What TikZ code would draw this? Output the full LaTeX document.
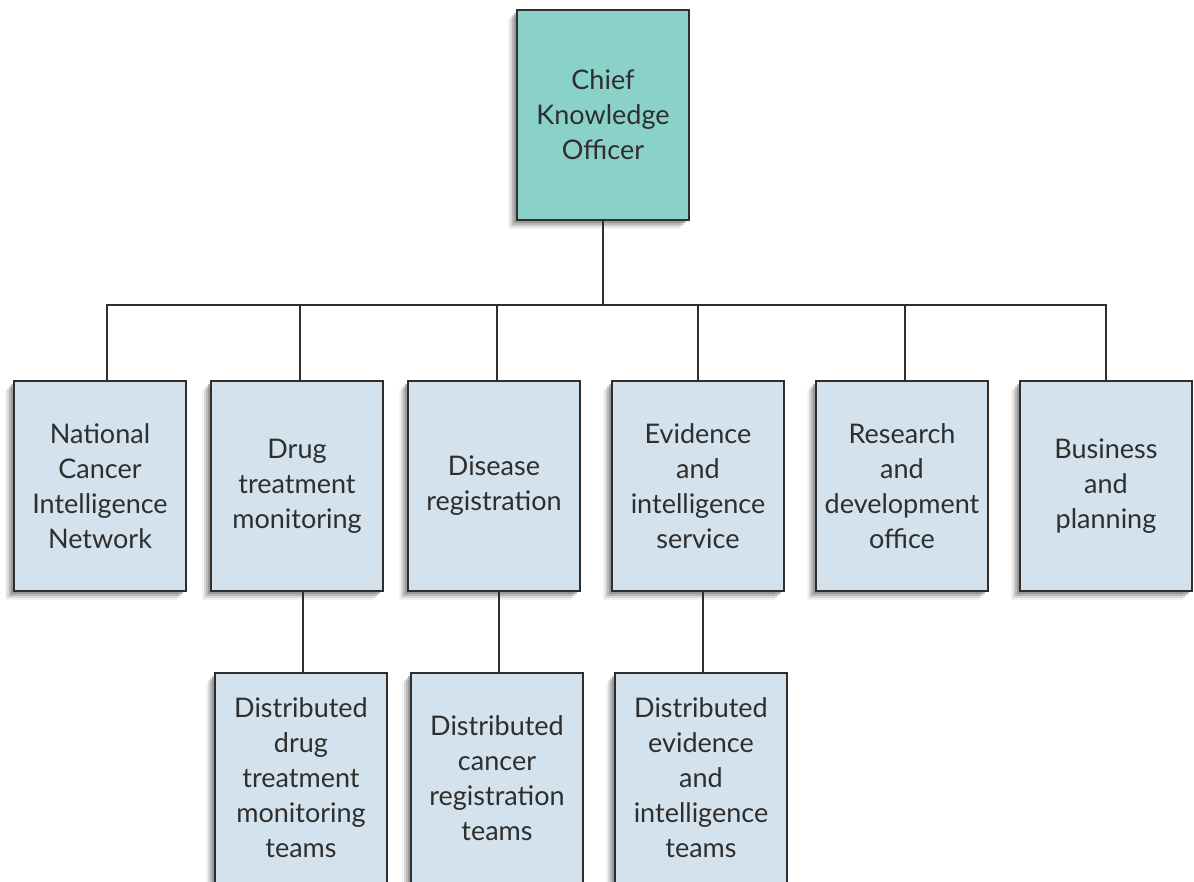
\documentclass[tikz,border=0pt]{standalone}
\usepackage{fontspec}
\setmainfont{Lato}
\usetikzlibrary{shadows}
\definecolor{ckoteal}{HTML}{8AD1CA}
\definecolor{unitblue}{HTML}{D3E2EC}
\definecolor{edgegray}{HTML}{2E2E2E}
\tikzset{
  unit/.style={draw=edgegray, line width=1.4pt, fill=unitblue, text=edgegray,
    minimum width=172pt, minimum height=210pt, inner sep=0pt, align=center,
    font=\fontsize{27}{35}\selectfont,
    drop shadow={shadow xshift=-3pt, shadow yshift=-3pt, opacity=0.55},
    drop shadow={shadow xshift=-5pt, shadow yshift=-5pt, opacity=0.35},
    drop shadow={shadow xshift=-7pt, shadow yshift=-7pt, opacity=0.22},
    drop shadow={shadow xshift=-9pt, shadow yshift=-9pt, opacity=0.10}},
  chief/.style={unit, fill=ckoteal},
  link/.style={draw=edgegray, line width=2pt}
}
\begin{document}
\begin{tikzpicture}[x=1pt,y=-1pt]
\clip (0,0) rectangle (1194,881);
\fill[white] (0,0) rectangle (1194,881);

\node[chief] (CKO) at (603,115) {Chief\\Knowledge\\Officer};

\node[unit] (A) at (100,486) {National\\Cancer\\Intelligence\\Network};
\node[unit] (B) at (297,486) {Drug\\treatment\\monitoring};
\node[unit] (C) at (494,486) {Disease\\registration};
\node[unit] (D) at (698,486) {Evidence\\and\\intelligence\\service};
\node[unit] (E) at (902,486) {Research\\and\\development\\office};
\node[unit] (F) at (1106,486) {Business\\and\\planning};

\node[unit] (G) at (301,778) {Distributed\\drug\\treatment\\monitoring\\teams};
\node[unit] (H) at (497,778) {Distributed\\cancer\\registration\\teams};
\node[unit] (I) at (701,778) {Distributed\\evidence\\and\\intelligence\\teams};

\coordinate (bus) at (CKO.south |- 0,305);
\draw[link] (CKO.south) -- (bus);
\draw[link] ([xshift=7pt]A.north) |- (bus);
\draw[link] (F.north) |- (bus);
\draw[link] ([xshift=3pt]B.north) -- ([xshift=3pt]B.north |- bus);
\draw[link] ([xshift=3pt]C.north) -- ([xshift=3pt]C.north |- bus);
\draw[link] (D.north) -- (D.north |- bus);
\draw[link] ([xshift=3pt]E.north) -- ([xshift=3pt]E.north |- bus);

\draw[link] ([xshift=2pt]G.north) -- ([xshift=2pt]G.north |- B.south);
\draw[link] ([xshift=2pt]H.north) -- ([xshift=2pt]H.north |- C.south);
\draw[link] ([xshift=2pt]I.north) -- ([xshift=2pt]I.north |- D.south);
\end{tikzpicture}
\end{document}
